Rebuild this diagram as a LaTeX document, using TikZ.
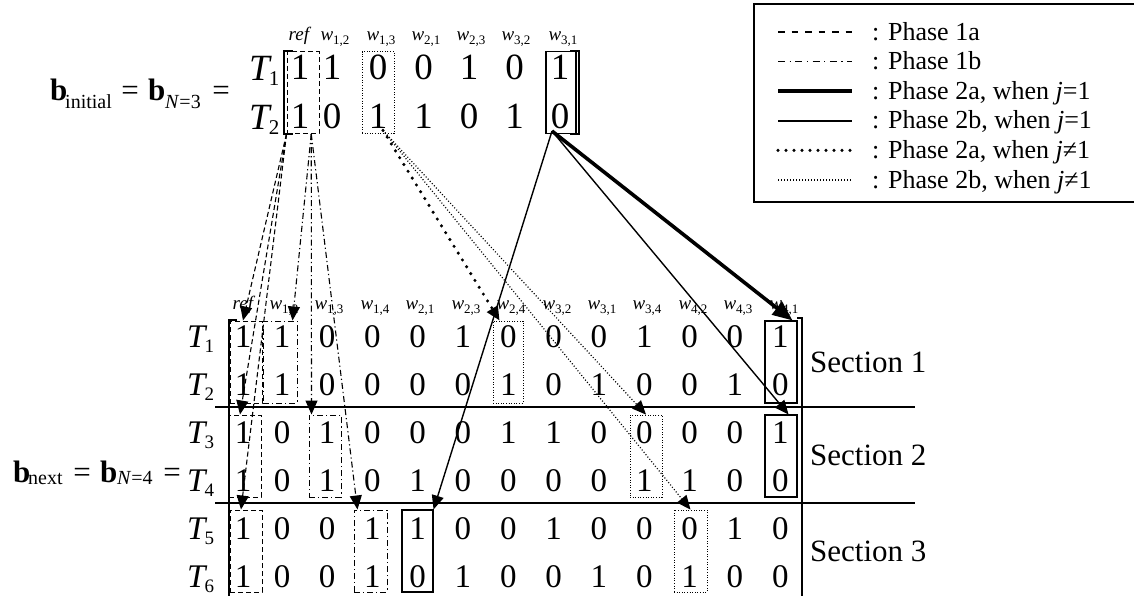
\documentclass[tikz,border=0pt]{standalone}
\usepackage{fontspec}
\setmainfont{Liberation Serif}
\usetikzlibrary{arrows.meta,calc}

% font sizes (1pt = 1 unit of the picture)
\newcommand\bigdig{\fontsize{37}{37}\selectfont}
\newcommand\smalldig{\fontsize{33}{33}\selectfont}
\newcommand\hdrfont{\fontsize{19}{19}\selectfont}
\newcommand\eqfont{\fontsize{31}{31}\selectfont}
\newcommand\subfont{\fontsize{20}{20}\selectfont}
\newcommand\legfont{\fontsize{26}{26}\selectfont}
\newcommand\secfont{\fontsize{31}{31}\selectfont}

% column header w_{i,j}
\newcommand\hw[1]{\textit{w}\raisebox{-4pt}{\fontsize{13}{13}\selectfont #1}}
% row label T_k: size, subscript size, index
\newcommand\rowT[3]{\fontsize{#1}{#1}\selectfont\textit{T}\kern-3pt\raisebox{-5pt}{\fontsize{#2}{#2}\selectfont #3}}

\begin{document}
\begin{tikzpicture}[x=1pt,y=-1pt,
  cell/.style={inner sep=0pt, anchor=base},
  hdr/.style={inner sep=0pt, anchor=base, font=\hdrfont},
  eqpart/.style={inner sep=0pt, anchor=base west, font=\eqfont},
  subpart/.style={inner sep=0pt, anchor=base west, font=\subfont},
  rowlab/.style={inner sep=0pt, anchor=base west},
  box/.style={draw, inner sep=0pt, minimum width=32pt, minimum height=82pt, line width=1pt},
  dbox/.style={box, dash pattern=on 5pt off 3pt},
  ddbox/.style={box, dash pattern=on 6pt off 3pt on 1.2pt off 3pt},
  tbox/.style={box, line width=0.8pt, dash pattern=on 1pt off 1.6pt},
  sbox/.style={box, line width=1.1pt},
  bracket/.style={line width=1.5pt},
  ph1a/.style={line width=1.1pt, dash pattern=on 5pt off 3pt},
  ph1b/.style={line width=1.1pt, dash pattern=on 6pt off 3pt on 1.2pt off 3pt},
  ph2aone/.style={line width=3.6pt},
  ph2bone/.style={line width=1.4pt},
  ph2aoth/.style={line width=3.4pt, line cap=round, dash pattern=on 0pt off 8pt},
  ph2both/.style={line width=1.2pt, dash pattern=on 1pt off 2pt},
  tip/.style={-{Triangle[length=14pt,width=12pt]}},
  bigtip/.style={-{Triangle[length=20pt,width=16pt]}},
  % legend samples
  lg1a/.style={line width=1.3pt, dash pattern=on 6.5pt off 7pt},
  lg1b/.style={line width=1.1pt, dash pattern=on 7pt off 4.5pt on 1.3pt off 4.5pt},
]
\useasboundingbox (0,0) rectangle (1134,595);

% ---------------- initial matrix ----------------
\node[eqpart] (bi) at (50,100) {\textbf{b}};
\node[subpart] (bisub) at (65,108) {initial};
\node[eqpart, anchor=base] (eqa) at (130,100) {=};
\node[eqpart] (bn3) at (148,100) {\textbf{b}};
\node[subpart] (bn3sub) at (165,108) {\textit{N}=3};
\node[eqpart, anchor=base] (eqb) at (221,100) {=};

\node[rowlab] (tT1) at (249,80) {\rowT{37}{21}{1}};
\node[rowlab] (tT2) at (249,129) {\rowT{37}{21}{2}};

\node[hdr] (th1) at (300,40) {\textit{ref}};
\node[hdr] (th2) at (335,40) {\hw{1,2}};
\node[hdr] (th3) at (381,40) {\hw{1,3}};
\node[hdr] (th4) at (426,40) {\hw{2,1}};
\node[hdr] (th5) at (471,40) {\hw{2,3}};
\node[hdr] (th6) at (516,40) {\hw{3,2}};
\node[hdr] (th7) at (563,40) {\hw{3,1}};

\foreach \r/\yb/\vals in {1/79/{1,1,0,0,1,0,1}, 2/128/{1,0,1,1,0,1,0}} {
  \foreach \v [count=\c] in \vals {
    \pgfmathsetmacro{\xx}{\c==1 ? 300 : (\c==2 ? 332 : 378+45.5*(\c-3))}
    \node[cell, font=\bigdig] (t-\r-\c) at (\xx,\yb) {\v};
  }
}

\draw[bracket] (293,51) -- (284,51) -- (284,134) -- (293,134);
\draw[bracket] (570,51) -- (579,51) -- (579,134) -- (570,134);

\node[dbox] (tref) at (303,92.5) {};
\node[tbox] (tw13) at (378,92.5) {};
\node[sbox, minimum width=30pt] (tw31) at (561,92.5) {};

% ---------------- next matrix ----------------
\node[eqpart] (bx) at (13,482) {\textbf{b}};
\node[subpart] (bxsub) at (28,484) {next};
\node[eqpart, anchor=base] (eqc) at (82,482) {=};
\node[eqpart] (bn4) at (100,482) {\textbf{b}};
\node[subpart] (bn4sub) at (117,484) {\textit{N}=4};
\node[eqpart, anchor=base] (eqd) at (172,482) {=};

\node[hdr] (bh1)  at (244,309) {\textit{ref}};
\node[hdr] (bh2)  at (284,309) {\hw{1,2}};
\node[hdr] (bh3)  at (329,309) {\hw{1,3}};
\node[hdr] (bh4)  at (375,309) {\hw{1,4}};
\node[hdr] (bh5)  at (420,309) {\hw{2,1}};
\node[hdr] (bh6)  at (466,309) {\hw{2,3}};
\node[hdr] (bh7)  at (511,309) {\hw{2,4}};
\node[hdr] (bh8)  at (557,309) {\hw{3,2}};
\node[hdr] (bh9)  at (602,309) {\hw{3,1}};
\node[hdr] (bh10) at (647,309) {\hw{3,4}};
\node[hdr] (bh11) at (693,309) {\hw{4,2}};
\node[hdr] (bh12) at (738,309) {\hw{4,3}};
\node[hdr] (bh13) at (784,309) {\hw{4,1}};

\foreach \r/\yb in {1/347,2/395,3/443,4/491,5/539,6/587}
  \node[rowlab] (bT\r) at (187,\yb) {\rowT{33}{19}{\r}};

\foreach \r/\yb/\vals in {
  1/347/{1,1,0,0,0,1,0,0,0,1,0,0,1},
  2/395/{1,1,0,0,0,0,1,0,1,0,0,1,0},
  3/443/{1,0,1,0,0,0,1,1,0,0,0,0,1},
  4/491/{1,0,1,0,1,0,0,0,0,1,1,0,0},
  5/539/{1,0,0,1,1,0,0,1,0,0,0,1,0},
  6/587/{1,0,0,1,0,1,0,0,1,0,1,0,0}} {
  \foreach \v [count=\c] in \vals {
    \pgfmathsetmacro{\xx}{\c==1 ? 243 : (\c==2 ? 282 : 327+45.33*(\c-3))}
    \node[cell, font=\smalldig] (b-\r-\c) at (\xx,\yb) {\v};
  }
}

% brackets and section separators
\draw[bracket] (237,320) -- (229,320) -- (229,600);
\draw[bracket] (797,318) -- (802,318) -- (802,600);
\draw[line width=1.3pt] (215,407) -- (915,407);
\draw[line width=1.3pt] (215,503) -- (915,503);

\node[inner sep=0pt, anchor=base west, font=\secfont] (sec1) at (810,372) {Section 1};
\node[inner sep=0pt, anchor=base west, font=\secfont] (sec2) at (810,465) {Section 2};
\node[inner sep=0pt, anchor=base west, font=\secfont] (sec3) at (810,561) {Section 3};

% boxes of the next matrix
\node[dbox]  (rs1) at (246,362) {};
\node[dbox]  (rs2) at (245,456) {};
\node[dbox]  (rs3) at (246,551) {};
\node[ddbox, minimum width=34pt] (c12) at (280,362) {};
\node[ddbox] (c13) at (325,456) {};
\node[ddbox, minimum width=33pt] (c14) at (370.5,551) {};
\node[sbox, minimum width=31pt] (s21) at (417.5,551) {};
\node[tbox, minimum width=30pt] (d24) at (508,362) {};
\node[tbox] (d34) at (646,456) {};
\node[tbox, minimum width=33pt] (d42) at (690.5,551) {};
\node[sbox] (s41a) at (781,362) {};
\node[sbox] (s41b) at (781,456) {};

% origins of the connectors
\coordinate (o1a) at (tref.south west);
\coordinate (o1b) at ($(tref.south west)!0.75!(tref.south east)$);
\coordinate (o2x) at ([xshift=5pt,yshift=3.5pt]tw13.south);
\coordinate (o2s) at ([xshift=-9pt,yshift=3pt]tw31.south);

% Phase 1a
\draw[ph1a, tip] (o1a) -- ([xshift=-3pt]rs1.north);
\draw[ph1a, tip] (o1a) -- ([xshift=-5pt]rs2.north);
\draw[ph1a, tip] (o1a) -- ([xshift=-5pt]rs3.north);
% Phase 1b
\draw[ph1b, tip] (o1b) -- ([xshift=-5pt]c12.north east);
\draw[ph1b, tip] (o1b) -- ([xshift=3pt]c13.north west);
\draw[ph1b, tip] (o1b) -- ([xshift=4pt]c14.north west);
% Phase 2, j != 1
\draw[ph2aoth, tip] (o2x) -- ([xshift=7pt]d24.north west);
\draw[ph2both, tip] (o2x) -- (d34.north);
\draw[ph2both, tip] (o2x) -- (d42.north);
% Phase 2, j = 1
\draw[ph2aone, bigtip] (o2s) -- ([xshift=-5pt]s41a.north east);
\draw[ph2bone, tip] (o2s) -- ([xshift=-9pt]s41b.north east);
\draw[ph2bone, tip] (o2s) -- (s21.north east);

% ---------------- legend ----------------
\node[draw, line width=1.5pt, inner sep=0pt, minimum width=390pt, minimum height=198pt, anchor=north west] (legend) at (753,3) {};
\foreach \k/\sty/\txt in {
  1/lg1a/{: Phase 1a},
  2/lg1b/{: Phase 1b},
  3/ph2aone/{: Phase 2a, when \textit{j}=1},
  4/ph2bone/{: Phase 2b, when \textit{j}=1},
  5/ph2aoth/{: Phase 2a, when \textit{j}≠1},
  6/ph2both/{: Phase 2b, when \textit{j}≠1}} {
  \pgfmathsetmacro{\yy}{32+29.6*(\k-1)}
  \coordinate (ls\k) at (778,\yy);
  \coordinate (le\k) at (852,\yy);
  \draw[\sty] (ls\k) -- (le\k);
  \node[inner sep=0pt, anchor=base west, font=\legfont] (lt\k) at (872,\yy+8) {\txt};
}
\end{tikzpicture}
\end{document}
